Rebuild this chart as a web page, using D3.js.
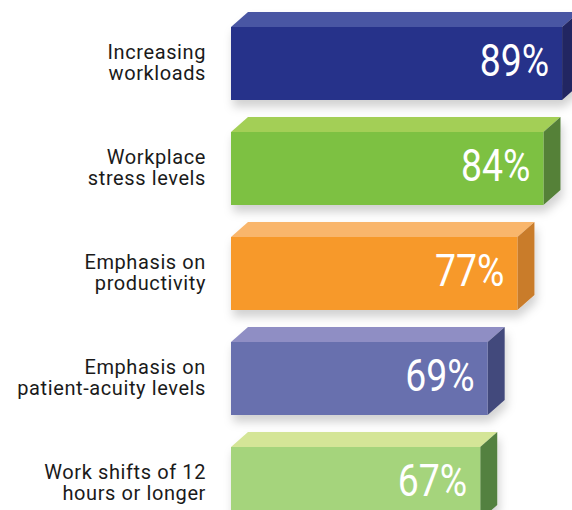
<!DOCTYPE html>
<html>
<head>
<meta charset="utf-8">
<script src="https://cdn.jsdelivr.net/npm/d3@7"></script>
<style>
  body { margin: 0; background: #fff; }
  svg { display: block; }
  .cat { font-family: Roboto, "Noto Sans", sans-serif; font-size: 20px; letter-spacing: 0.6px; fill: #1a1a1a; }
  .val { font-family: Roboto, "Noto Sans", sans-serif; font-size: 44px; fill: #fff; }
</style>
</head>
<body>
<svg id="chart" width="572" height="510"></svg>
<script>
  // data
  var categories = [
      ["Increasing", "workloads"],
      ["Workplace", "stress levels"],
      ["Emphasis on", "productivity"],
      ["Emphasis on", "patient-acuity levels"],
      ["Work shifts of 12", "hours or longer"]
  ];
  var values = [89, 84, 77, 69, 67];
  var frontColors = ["#28318a", "#7dc142", "#f7992b", "#6870ae", "#a5d47b"];
  var topColors   = ["#4a56a3", "#a3cf57", "#f9b66c", "#8f8ec4", "#d4e597"];
  var sideColors  = ["#232662", "#548139", "#c97c2c", "#434a7c", "#538141"];

  var rows = values.map((v, i) => ({
      key: i, lines: categories[i], value: v,
      front: frontColors[i], top: topColors[i], side: sideColors[i]
  }));

  var svg = d3.select("#chart");

  // soft shadow under each box
  var defs = svg.append("defs");
  var f = defs.append("filter").attr("id", "shadow")
      .attr("x", "-10%").attr("y", "-20%").attr("width", "130%").attr("height", "160%");
  f.append("feDropShadow")
      .attr("dx", 2).attr("dy", 7).attr("stdDeviation", 5)
      .attr("flood-color", "#000").attr("flood-opacity", 0.18);

  var x = d3.scaleLinear().domain([0, 100]).range([231, 603]);
  var y = d3.scaleBand().domain(rows.map(d => d.key))
      .range([27, 520]).paddingInner(32 / 105).paddingOuter(0);

  var depthX = 17, depthY = 15;
  var h = y.bandwidth();

  var bar = svg.selectAll(".bar")
      .data(rows)
      .enter()
      .append("g")
      .attr("class", "bar")
      .attr("transform", d => "translate(0," + y(d.key) + ")");

  var box = bar.append("g").attr("filter", "url(#shadow)");

  // top face
  box.append("path")
      .attr("fill", d => d.top)
      .attr("d", d => {
          var x0 = x(0), x1 = x(d.value);
          return "M" + x0 + ",0L" + (x0 + depthX) + "," + (-depthY) +
                 "L" + (x1 + depthX) + "," + (-depthY) + "L" + x1 + ",0Z";
      });

  // side face
  box.append("path")
      .attr("fill", d => d.side)
      .attr("d", d => {
          var x1 = x(d.value);
          return "M" + x1 + ",0L" + (x1 + depthX) + "," + (-depthY) +
                 "L" + (x1 + depthX) + "," + (h - depthY) + "L" + x1 + "," + h + "Z";
      });

  // front face
  box.append("rect")
      .attr("x", x(0))
      .attr("y", 0)
      .attr("width", d => x(d.value) - x(0))
      .attr("height", h)
      .attr("fill", d => d.front);

  // value label (condensed look by squeezing horizontally)
  bar.append("g")
      .attr("transform", d => "translate(" + (x(d.value) - 13) + "," + (h / 2 + 12.5) + ") scale(0.85,1)")
      .append("text")
      .attr("class", "val")
      .attr("text-anchor", "end")
      .text(d => d.value + "%");

  // category labels
  bar.append("text")
      .attr("class", "cat")
      .attr("text-anchor", "end")
      .attr("y", h / 2 - 5)
      .selectAll("tspan")
      .data(d => d.lines)
      .enter()
      .append("tspan")
      .attr("x", 206)
      .attr("dy", (l, i) => i === 0 ? 0 : 21)
      .text(l => l);
</script>
</body>
</html>
